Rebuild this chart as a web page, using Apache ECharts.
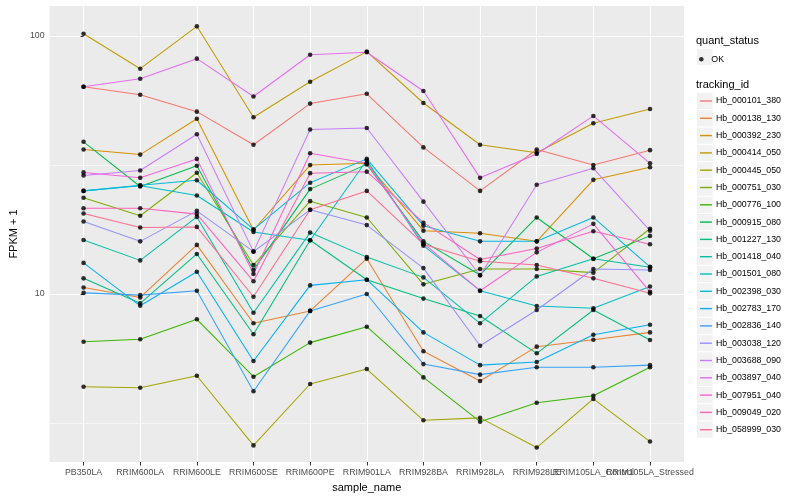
<!DOCTYPE html>
<html><head><meta charset="utf-8">
<script src="https://cdn.jsdelivr.net/npm/echarts@6/dist/echarts.min.js"></script>
<style>html,body{margin:0;padding:0;background:#fff}#c{width:800px;height:500px}</style>
</head><body><div id="c"></div>
<script>
const categories = ['PB350LA','RRIM600LA','RRIM600LE','RRIM600SE','RRIM600PE','RRIM901LA','RRIM928BA','RRIM928LA','RRIM928LE','RRIM105LA_Control','RRIM105LA_Stressed'];
const trackingIds = ['Hb_000101_380','Hb_000138_130','Hb_000392_230','Hb_000414_050','Hb_000445_050','Hb_000751_030','Hb_000776_100','Hb_000915_080','Hb_001227_130','Hb_001418_040','Hb_001501_080','Hb_002398_030','Hb_002783_170','Hb_002836_140','Hb_003038_120','Hb_003688_090','Hb_003897_040','Hb_007951_040','Hb_009049_020','Hb_058999_030'];
const Hb_000101_380 = [63.6, 59.2, 50.9, 37.9, 54.7, 59.7, 37.0, 25.1, 36.3, 31.6, 36.1];
const Hb_000138_130 = [10.6, 9.7, 15.5, 7.7, 8.6, 13.7, 6.0, 4.6, 6.25, 6.65, 7.1];
const Hb_000392_230 = [36.3, 34.7, 47.8, 17.7, 31.6, 32.1, 17.6, 17.2, 16.0, 27.7, 31.0];
const Hb_000414_050 = [102, 74.7, 109, 48.4, 66.5, 87, 55, 37.9, 35.3, 45.9, 52.1];
const Hb_000445_050 = [4.37, 4.33, 4.82, 2.59, 4.48, 5.12, 3.24, 3.31, 2.54, 3.92, 2.68];
const Hb_000751_030 = [23.6, 20.1, 29.5, 12.95, 22.9, 19.8, 10.9, 12.5, 12.5, 12.1, 17.9];
const Hb_000776_100 = [6.53, 6.68, 7.98, 4.78, 6.48, 7.47, 4.75, 3.20, 3.79, 4.03, 5.20];
const Hb_000915_080 = [38.9, 26.1, 31.4, 12.4, 25.5, 31.8, 16.0, 11.85, 19.8, 13.7, 16.8];
const Hb_001227_130 = [11.5, 9.2, 14.3, 6.98, 16.15, 11.36, 9.6, 8.22, 5.89, 8.67, 6.63];
const Hb_001418_040 = [16.2, 13.5, 19.9, 8.46, 17.3, 13.9, 11.6, 7.7, 11.7, 13.7, 12.7];
const Hb_001501_080 = [25.1, 26.3, 24.1, 17.4, 16.15, 33.0, 15.4, 10.3, 8.98, 8.8, 10.7];
const Hb_002398_030 = [25.1, 26.4, 27.6, 17.8, 27.0, 33.4, 18.4, 16.0, 16.0, 19.8, 12.75];
const Hb_002783_170 = [13.2, 9.0, 12.2, 5.5, 10.8, 11.36, 7.1, 5.3, 5.45, 6.95, 7.6];
const Hb_002836_140 = [10.1, 9.9, 10.3, 4.2, 8.6, 10.0, 5.35, 4.87, 5.2, 5.2, 5.3];
const Hb_003038_120 = [19.1, 16.0, 21.0, 14.6, 21.2, 18.5, 12.6, 6.3, 8.67, 12.5, 12.4];
const Hb_003688_090 = [28.8, 30.1, 41.6, 14.6, 43.4, 44.0, 22.8, 11.8, 26.5, 30.7, 17.6];
const Hb_003897_040 = [63.6, 68.3, 81.7, 58.3, 84.6, 86.5, 61.2, 28.2, 34.9, 49.0, 32.1];
const Hb_007951_040 = [29.6, 28.2, 33.4, 11.95, 35.1, 32.1, 15.7, 10.3, 14.5, 18.7, 10.2];
const Hb_009049_020 = [21.5, 21.5, 20.4, 11.2, 29.4, 29.8, 18.9, 13.6, 15.0, 17.5, 15.6];
const Hb_058999_030 = [20.5, 18.1, 18.2, 9.76, 21.2, 25.1, 15.6, 13.4, 12.95, 11.5, 10.06];
const yTicks = [10, 100];
const yMinorTicks = [3.1623, 31.623];

const seriesValues = [Hb_000101_380,Hb_000138_130,Hb_000392_230,Hb_000414_050,Hb_000445_050,Hb_000751_030,Hb_000776_100,Hb_000915_080,Hb_001227_130,Hb_001418_040,Hb_001501_080,Hb_002398_030,Hb_002783_170,Hb_002836_140,Hb_003038_120,Hb_003688_090,Hb_003897_040,Hb_007951_040,Hb_009049_020,Hb_058999_030];
const palette = ['#F8766D','#EA8331','#D89000','#C09B00','#A3A500','#7CAE00','#39B600','#00BB4E','#00BF7D','#00C1A3','#00BFC4','#00BAE0','#00B0F6','#35A2FF','#9590FF','#C77CFF','#E76BF3','#FA62DB','#FF62BC','#FF6C91'];
const FONT = '"Liberation Sans", Arial, Helvetica, sans-serif';
const yMin = 2.233, yMax = 130.7;
const catIdx = categories.map((c, i) => i);
const labelIdxMain = catIdx.filter(i => i !== 9);
const labelIdxExtra = [9];

const chart = echarts.init(document.getElementById('c'), null, {renderer: 'canvas'});

const lineSeries = trackingIds.map((id, k) => ({
  name: id, type: 'line', xAxisIndex: 0, yAxisIndex: 0,
  data: seriesValues[k].map((v, i) => [i, v]),
  symbol: 'none', showSymbol: false,
  lineStyle: {width: 1.05, color: palette[k]},
  itemStyle: {color: palette[k]},
  emphasis: {disabled: true}, z: 2, animation: false
}));
const pointSeries = {
  name: 'OK', type: 'scatter', xAxisIndex: 0, yAxisIndex: 0,
  data: [].concat(...seriesValues.map(vals => vals.map((v, i) => [i, v]))),
  symbol: 'circle', symbolSize: 4.6,
  itemStyle: {color: '#000000'}, emphasis: {disabled: true}, z: 5, animation: false
};

const legendStep = 17.3, firstCenter = 101;
const keyRects = trackingIds.map((id, k) => ({
  type: 'rect', z: 0,
  shape: {x: 697, y: firstCenter + legendStep * k - 8.1, width: 15.6, height: 16.2},
  style: {fill: '#F2F2F2'}
}));

const xLabelStyle = {formatter: v => categories[Math.round(v)] || '', color: '#4D4D4D', fontSize: 8.8, fontFamily: FONT, margin: 6.5, hideOverlap: false, showMinLabel: true, showMaxLabel: true};

chart.setOption({
  animation: false,
  backgroundColor: '#FFFFFF',
  grid: {left: 40, right: 116, top: 6, bottom: 38, show: true, backgroundColor: '#EBEBEB', borderWidth: 0, containLabel: false},
  xAxis: [{
    type: 'value', min: -0.6, max: 10.6, position: 'bottom',
    name: 'sample_name', nameLocation: 'middle', nameGap: 20,
    nameTextStyle: {color: '#000', fontSize: 11, fontFamily: FONT},
    axisLine: {show: false},
    axisTick: {show: true, length: 3.5, customValues: catIdx, lineStyle: {color: '#333333', width: 1}},
    axisLabel: Object.assign({customValues: labelIdxMain}, xLabelStyle),
    splitLine: {show: true, lineStyle: {color: '#FFFFFF', width: 1.1}}
  }, {
    type: 'value', min: -0.6, max: 10.6, position: 'bottom', offset: 0,
    axisLine: {show: false},
    axisTick: {show: false, customValues: labelIdxExtra},
    axisLabel: Object.assign({customValues: labelIdxExtra}, xLabelStyle),
    splitLine: {show: false}
  }],
  yAxis: [{
    type: 'log', logBase: 10, min: yMin, max: yMax,
    name: 'FPKM + 1', nameLocation: 'middle', nameGap: 23,
    nameTextStyle: {color: '#000', fontSize: 11, fontFamily: FONT},
    axisLine: {show: false},
    axisTick: {show: true, length: 3, customValues: yTicks, lineStyle: {color: '#333333', width: 1}},
    axisLabel: {customValues: yTicks, color: '#4D4D4D', fontSize: 8.8, fontFamily: FONT, margin: 5},
    splitLine: {show: true, lineStyle: {color: '#FFFFFF', width: 1.1}}
  }, {
    type: 'log', logBase: 10, min: yMin, max: yMax, position: 'left',
    axisLine: {show: false}, axisLabel: {show: false},
    axisTick: {show: false, customValues: yMinorTicks},
    splitLine: {show: true, lineStyle: {color: '#FFFFFF', width: 0.55}}
  }],
  legend: [{
    data: trackingIds, orient: 'vertical', left: 699, top: firstCenter - legendStep / 2,
    itemWidth: 12, itemHeight: legendStep, itemGap: 0, selectedMode: false,
    itemStyle: {opacity: 0}, lineStyle: {width: 1.4},
    textStyle: {color: '#000', fontSize: 8.8, fontFamily: FONT, lineHeight: legendStep, padding: [0, 0, 0, -1]},
    padding: 0, z: 4
  }, {
    data: ['OK'], orient: 'vertical', left: 699, top: 57 - 2.3, icon: 'circle',
    itemWidth: 12, itemHeight: 4.6, selectedMode: false,
    textStyle: {color: '#000', fontSize: 8.8, fontFamily: FONT, padding: [0, 0, 0, -1]},
    padding: 0, z: 4
  }],
  graphic: [
    {type: 'text', left: 696, top: 35.5, z: 4, style: {text: 'quant_status', fontSize: 11, fontFamily: FONT, fill: '#000'}},
    {type: 'rect', z: 0, shape: {x: 697, y: 48.9, width: 15.6, height: 16.2}, style: {fill: '#F2F2F2'}},
    {type: 'text', left: 696, top: 79.3, z: 4, style: {text: 'tracking_id', fontSize: 11, fontFamily: FONT, fill: '#000'}}
  ].concat(keyRects),
  series: lineSeries.concat([pointSeries])
});
</script></body></html>
